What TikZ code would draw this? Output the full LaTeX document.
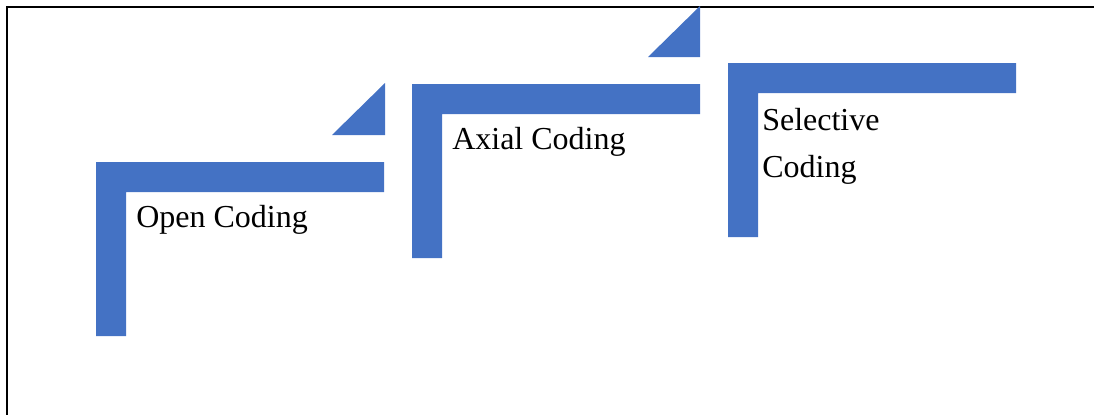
\documentclass[tikz,border=0pt]{standalone}
\usepackage{fontspec}
\setmainfont{Liberation Serif}
\definecolor{stepblue}{HTML}{4472C4}
\begin{document}
\begin{tikzpicture}[x=0.75pt,y=-0.75pt,
  bar/.style={fill=stepblue},
  label/.style={anchor=base west,inner sep=0pt,font=\fontsize{24}{35}\selectfont,align=left}]
\useasboundingbox (0,0) rectangle (1094,414);
% frame, open to the right and bottom
\draw[line width=1.5pt] (7,420) -- (7,7) -- (1100,7);
% step 1
\fill[bar] (96,162) -- (384,162) -- (384,192) -- (126,192) -- (126,336) -- (96,336) -- cycle;
\fill[bar] (332,135) -- (385,83) -- (385,135) -- cycle;
% step 2
\fill[bar] (412,84) -- (700,84) -- (700,114) -- (442,114) -- (442,258) -- (412,258) -- cycle;
\fill[bar] (648,57) -- (700,6) -- (700,57) -- cycle;
% step 3
\fill[bar] (728,63) -- (1016,63) -- (1016,93) -- (758,93) -- (758,237) -- (728,237) -- cycle;
% labels (base anchor sits on the last line)
\node[label] (open) at (136,227) {Open Coding};
\node[label] (axial) at (452,149) {Axial Coding};
\node[label] (selective) at (762,177) {Selective\\Coding};
\end{tikzpicture}
\end{document}
